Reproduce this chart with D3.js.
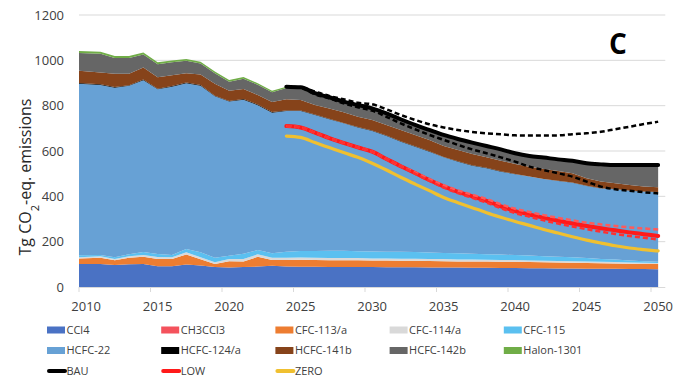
<!DOCTYPE html>
<html>
<head>
<meta charset="utf-8">
<script src="https://cdn.jsdelivr.net/npm/d3@7"></script>
<style>
  body { margin: 0; background: #fff; }
  svg text { font-family: "Open Sans", sans-serif; fill: #404040; }
</style>
</head>
<body>
<div id="chart"></div>
<script>
// years on the category axis
var years = [2010, 2011, 2012, 2013, 2014, 2015, 2016, 2017, 2018, 2019,
             2020, 2021, 2022, 2023, 2024, 2025, 2026, 2027, 2028, 2029,
             2030, 2031, 2032, 2033, 2034, 2035, 2036, 2037, 2038, 2039,
             2040, 2041, 2042, 2043, 2044, 2045, 2046, 2047, 2048, 2049, 2050];

// stacked components (Tg CO2-eq.), bottom to top
var ccl4     = [101,101,97,100,101,91,91,99,95,88, 86,88,90,94,90,89,89,88,88,88, 88,87,87,87,86,86,86,85,85,84, 84,83,83,82,82,81,80,80,79,79,78];
var ch3ccl3  = [0.5,0.5,0.5,0.5,0,0,0,0,0,0, 0,0,0,0,0,0,0,0,0,0, 0,0,0,0,0,0,0,0,0,0, 0,0,0,0,0,0,0,0,0,0,0];
var cfc113   = [24,28,20,28,32,33,32,44,27,13, 28,25,43,25,29,31,30,30,30,30, 29,30,29,29,29,28,27,28,27,27, 27,27,26,26,25,25,25,24,24,23,23];
var cfc114   = [6,6,6,7,8,8,8,10,9,8, 9,10,11,10,10,10,10,10,10,10, 9,9,9,9,9,9,8,8,8,8, 8,7,7,7,7,6,6,6,5,5,5];
var cfc115   = [9,6,8,9,13,14,10,15,22,20, 15,24,19,20,27,29,30,32,32,30, 31,30,30,29,28,27,28,26,25,24, 22,22,20,19,17,16,13,11,9,7,5];
var hcfc22   = [756,750,748,743,758,726,743,731,735,712, 680,679,639,620,621,618,600,580,562,546, 531,510,486,465,445,422,404,388,379,366, 356,348,340,334,329,318,311,310,308,306,307];
var hcfc124  = [3,3,3,3,3,3,3,3,3,3, 3,3,3,3,2,2,2,2,2,2, 2,2,2,2,2,2,2,2,2,2, 2,1,1,1,1,1,1,1,1,1,1];
var hcfc141b = [54,52,58,50,53,50,47,41,46,53, 45,44,42,44,49,46,42,46,47,45, 47,47,50,50,50,48,49,50,46,46, 44,43,44,43,41,33,29,26,24,22,21];
var hcfc142b = [79,82,70,70,58,58,57,55,49,46, 40,46,45,43,50,50,47,44,42,47, 46,47,43,40,40,45,45,47,47,47, 44,44,47,48,53,64,74,78,86,93,96];
var halon    = [9,9,9,9,9,8,8,8,8,8, 7,7,7,7,6,6,5,5,5,5, 5,4,4,4,4,4,4,3,3,3, 3,3,3,3,2,2,2,2,2,2,2];

// scenario totals from 2024
var scenYears = [2024, 2025, 2026, 2027, 2028, 2029, 2030, 2031, 2032, 2033,
                 2034, 2035, 2036, 2037, 2038, 2039, 2040, 2041, 2042, 2043,
                 2044, 2045, 2046, 2047, 2048, 2049, 2050];
var bau    = [884,881,855,837,818,803,788,766,740,715, 693,671,653,637,622,607,590,578,571,563, 557,546,541,538,538,538,538];
var bauHi  = [884,881,862,843,828,813,806,784,759,737, 718,704,693,684,678,674,669,668,668,669, 674,678,685,696,707,719,729];
var bauLo  = [884,878,850,832,810,793,778,751,722,696, 671,649,627,607,590,572,553,531,516,502, 487,465,443,431,425,418,413];
var low    = [710,704,681,657,636,616,597,565,533,503, 472,444,420,400,380,356,335,320,305,292, 280,269,259,250,241,233,225];
var lowHi  = [710,704,681,657,636,616,597,565,533,506, 476,449,426,407,388,365,345,331,317,305, 294,284,276,269,263,258,254];
var lowLo  = [710,704,681,657,636,616,597,565,533,500, 468,439,414,393,372,348,326,310,294,280, 267,255,244,234,225,217,210];
var zero   = [666,660,637,615,593,572,546,516,484,454, 425,395,372,350,328,308,289,272,254,238, 222,207,194,182,172,165,159];

var yTicks = [0, 200, 400, 600, 800, 1000, 1200];
var xTicks = [2010, 2015, 2020, 2025, 2030, 2035, 2040, 2045, 2050];

var keys   = ["CCl4", "CH3CCl3", "CFC-113/a", "CFC-114/a", "CFC-115", "HCFC-22", "HCFC-124/a", "HCFC-141b", "HCFC-142b", "Halon-1301"];
var values = [ccl4, ch3ccl3, cfc113, cfc114, cfc115, hcfc22, hcfc124, hcfc141b, hcfc142b, halon];
var colors = ["#4a72c4", "#f4525c", "#ed7d31", "#d9d9d9", "#5bc0f0", "#67a1d5", "#000000", "#86431a", "#666666", "#70ad47"];

var width = 699, height = 383;

var svg = d3.select("#chart").append("svg")
    .attr("width", width)
    .attr("height", height);

// category axis: each year is a band, points sit in the middle of it
var x = d3.scaleLinear().domain([2009.5, 2050.5]).range([79, 665.3]),
    y = d3.scaleLinear().domain([0, 1200]).range([287, 15]);

// grid
svg.append("g").selectAll("line")
    .data(yTicks.slice(1))
  .enter().append("line")
    .attr("x1", x.range()[0]).attr("x2", x.range()[1])
    .attr("y1", function(d) { return y(d); })
    .attr("y2", function(d) { return y(d); })
    .attr("stroke", "#d9d9d9")
    .attr("stroke-width", 1);

// stacked areas
var rows = years.map(function(yr, i) {
  var r = {year: yr};
  keys.forEach(function(k, j) { r[k] = values[j][i]; });
  return r;
});
var series = d3.stack().keys(keys)(rows);

var area = d3.area()
    .x(function(d) { return d.data.year === years[0] ? x.range()[0] : x(d.data.year); })
    .y0(function(d) { return y(d[0]); })
    .y1(function(d) { return y(d[1]); });

svg.append("g").selectAll("path")
    .data(series)
  .enter().append("path")
    .attr("fill", function(d, i) { return colors[i]; })
    .attr("d", area);

// x axis line + ticks
svg.append("line")
    .attr("x1", x.range()[0]).attr("x2", x.range()[1])
    .attr("y1", y(0) + 0.5).attr("y2", y(0) + 0.5)
    .attr("stroke", "#d9d9d9");
svg.append("g").selectAll("line")
    .data(xTicks)
  .enter().append("line")
    .attr("x1", function(d) { return x(d - 0.5); })
    .attr("x2", function(d) { return x(d - 0.5); })
    .attr("y1", y(0)).attr("y2", y(0) + 5)
    .attr("stroke", "#d9d9d9");

svg.append("g").selectAll("text")
    .data(xTicks)
  .enter().append("text")
    .attr("x", function(d) { return x(d); })
    .attr("y", 311)
    .attr("text-anchor", "middle")
    .style("font-size", "13px")
    .text(function(d) { return d; });

svg.append("g").selectAll("text")
    .data(yTicks)
  .enter().append("text")
    .attr("x", 64)
    .attr("y", function(d) { return y(d); })
    .attr("dy", "0.35em")
    .attr("text-anchor", "end")
    .style("font-size", "13px")
    .text(function(d) { return d; });

// y title
var yt = svg.append("text")
    .attr("transform", "translate(31,177) rotate(-90)")
    .attr("text-anchor", "middle")
    .style("font-size", "16px")
    .style("fill", "#262626");
yt.append("tspan").text("Tg CO");
yt.append("tspan").attr("baseline-shift", "sub").style("font-size", "11px").text("2");
yt.append("tspan").text("-eq. emissions");

// scenario lines
var line = d3.line()
    .x(function(d, i) { return x(scenYears[i]); })
    .y(function(d) { return y(d); })
    .curve(d3.curveMonotoneX);

function drawLine(data, color, w, dash) {
  svg.append("path")
      .datum(data)
      .attr("fill", "none")
      .attr("stroke", color)
      .attr("stroke-width", w)
      .attr("stroke-linejoin", "round")
      .attr("stroke-linecap", dash ? "butt" : "round")
      .attr("stroke-dasharray", dash || null)
      .attr("d", line);
}

drawLine(zero, "#f0c030", 3.2);
drawLine(low, "#ff1a1a", 4);
drawLine(bau, "#000000", 4);
drawLine(bauHi, "#000000", 2.5, "5,3");
drawLine(bauLo, "#000000", 2.5, "5,3");
drawLine(lowHi, "#ff5a5a", 2.5, "5,3");
drawLine(lowLo, "#ff3030", 2.5, "5,3");

// panel letter
svg.append("text")
    .attr("x", 618).attr("y", 54)
    .attr("text-anchor", "middle")
    .style("font-size", "28px")
    .style("font-weight", "bold")
    .style("fill", "#000")
    .text("C");

// legend
var legendItems = keys.map(function(k, i) { return {name: k, color: colors[i], type: "rect"}; })
  .concat([
    {name: "BAU", color: "#000000", type: "line"},
    {name: "LOW", color: "#ff1a1a", type: "line"},
    {name: "ZERO", color: "#f0c030", type: "line"}
  ]);

var lg = svg.append("g").selectAll("g")
    .data(legendItems)
  .enter().append("g")
    .attr("transform", function(d, i) {
      return "translate(" + (47 + (i % 5) * 114.2) + "," + (330 + Math.floor(i / 5) * 20.5) + ")";
    });

lg.filter(function(d) { return d.type === "rect"; }).append("rect")
    .attr("x", 0).attr("y", -3.5)
    .attr("width", 18).attr("height", 7)
    .attr("fill", function(d) { return d.color; });

lg.filter(function(d) { return d.type === "line"; }).append("line")
    .attr("x1", 2).attr("x2", 18)
    .attr("y1", 0).attr("y2", 0)
    .attr("stroke", function(d) { return d.color; })
    .attr("stroke-width", 4)
    .attr("stroke-linecap", "round");

lg.append("text")
    .attr("x", 19.5).attr("y", 0)
    .attr("dy", "0.35em")
    .style("font-size", "11px")
    .text(function(d) { return d.name; });
</script>
</body>
</html>
